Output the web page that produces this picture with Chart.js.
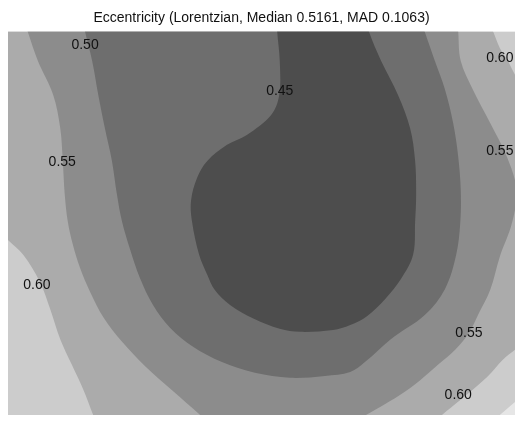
<!DOCTYPE html>
<html>
<head>
<meta charset="utf-8">
<script src="https://cdn.jsdelivr.net/npm/chart.js@4.4.1/dist/chart.umd.min.js"></script>
<style>
  html, body { margin: 0; padding: 0; background: #fff; }
  canvas { display: block; }
</style>
</head>
<body>
<canvas id="chart" width="524" height="424"></canvas>
<script>
// --- DATA: filled contour regions (x, y in plot units 0..100) ---
// each region = area where eccentricity is below the level; points outside 0..100 are clipped

const contourLevels = [0.45, 0.50, 0.55, 0.60, 0.65];

// whole plot (values above 0.65)
const frameX = [-6, -6, 106, 106];
const frameY = [-6, 106, 106, -6];

// below 0.65 (everything except the bottom right corner)
const below065X = [-6, -6, 106, 106, 102, 100, 97, 95, 92];
const below065Y = [-6, 106, 106, 8, 5.6, 3.4, 0, -2.3, -6];

// below 0.60
const below060X = [-3, -6, 94.4, 95.7, 97.0, 98.6, 100, 101.5, 106, 106, 102.4, 100, 97.6, 94.5, 89.2, 85.6, 83, 17.8, 16.8, 14.8, 12.6, 10.3, 8.3, 6.3, 3.0, 0];
const below060Y = [49.6, 106, 104, 100, 95.8, 92.4, 88.8, 85.5, 80, 20, 19.6, 17.0, 14.4, 9.9, 3.9, 0, -3, -3.4, 0, 6.8, 13.1, 19.8, 27.7, 34.7, 41.8, 45.7];

// below 0.55
const below055X = [2.9, 3.9, 5.9, 8.9, 10.3, 10.8, 11.2, 11.8, 12.8, 14.2, 16.2, 18.9, 22.5, 27.0, 32.3, 37.9, 40.5, 67.8, 70.6, 73.4, 77.3, 81.3, 84.8, 88.2, 90.9, 92.7, 95.1, 97.0, 99.4, 100.3, 98.4, 95.1, 91.7, 89.3, 88.8, 88.6];
const below055Y = [104, 100, 92.4, 83.6, 74.9, 66.3, 57.4, 50.4, 44.4, 38.4, 32.1, 25.3, 19.1, 12.8, 6.5, 0, -3, -2.1, 0, 2.1, 5.2, 9.1, 13.1, 17.0, 21.4, 26.1, 32.6, 41.3, 50.1, 58.7, 67.4, 76.2, 84.9, 92.4, 100, 104];

// below 0.50
const below050X = [14.5, 15.2, 16.6, 17.8, 19.1, 20.5, 21.5, 22.5, 24.1, 26.0, 28.6, 32.0, 36.5, 42.2, 48.7, 55.6, 62.5, 67.5, 70.4, 75.5, 82.2, 86.2, 88.4, 89.2, 89.3, 88.8, 87.8, 86.2, 84.2, 82.2, 81.2];
const below050Y = [104, 100, 92.4, 83.6, 74.9, 66.3, 57.4, 50.4, 43.1, 35.8, 28.7, 22.7, 17.8, 13.8, 11.0, 9.7, 10.2, 11.2, 13.8, 19.8, 26.1, 32.9, 41.8, 50.1, 58.7, 67.4, 76.2, 84.9, 92.4, 100, 104];

// below 0.45 (dark core)
const below045X = [53.0, 53.1, 53.6, 53.5, 51.9, 47.1, 43.2, 39.3, 37.3, 36.1, 36.3, 37.7, 39.3, 40.8, 43.8, 48.5, 53.6, 57.6, 64.1, 67.5, 70.8, 74.4, 77.5, 79.9, 80.3, 80.5, 80.3, 79.3, 76.9, 73.6, 71.2, 70.5];
const below045Y = [104, 100, 92.4, 83.6, 78.3, 73.1, 70.5, 66.3, 61.9, 55.9, 50.4, 41.8, 36.6, 32.6, 28.7, 25.1, 22.5, 21.7, 22.2, 23.5, 25.8, 30.3, 35.5, 41.8, 50.4, 57.4, 66.3, 74.9, 83.6, 92.4, 100, 104];

// contour labels
const labelText = ["0.50", "0.45", "0.55", "0.60", "0.60", "0.55", "0.55", "0.60"];
const labelX = [15.2, 53.6, 10.7, 5.7, 97.0, 97.0, 90.9, 88.8];
const labelY = [96.6, 84.6, 66.1, 33.9, 93.2, 68.9, 21.4, 5.2];

// --- STYLE ---
const regionColors = ["#e6e6e6", "#cccccc", "#ababab", "#8c8c8c", "#6e6e6e", "#4d4d4d"];

function toPoints(xs, ys) {
  return xs.map((x, i) => ({ x: x, y: ys[i] }));
}

const regions = [
  [frameX, frameY],
  [below065X, below065Y],
  [below060X, below060Y],
  [below055X, below055Y],
  [below050X, below050Y],
  [below045X, below045Y],
];

const datasets = regions.map((r, i) => ({
  label: i === 0 ? "> " + contourLevels[4] : "< " + contourLevels[contourLevels.length - i],
  data: toPoints(r[0], r[1]),
  showLine: true,
  fill: "shape",
  backgroundColor: regionColors[i],
  borderColor: "transparent",
  borderWidth: 0,
  pointRadius: 0,
  tension: i === 0 ? 0 : 0.35,
  order: regions.length - i, // outer regions painted first
  clip: 0,
}));

// draws the inline contour labels
const contourLabels = {
  id: "contourLabels",
  afterDatasetsDraw(chart) {
    const ctx = chart.ctx;
    const sx = chart.scales.x;
    const sy = chart.scales.y;
    ctx.save();
    ctx.font = '14px "Liberation Sans", Arial, sans-serif';
    ctx.fillStyle = "#111";
    ctx.textAlign = "center";
    ctx.textBaseline = "middle";
    labelText.forEach((t, i) => {
      ctx.fillText(t, sx.getPixelForValue(labelX[i]), sy.getPixelForValue(labelY[i]));
    });
    ctx.restore();
  },
};

new Chart(document.getElementById("chart"), {
  type: "scatter",
  data: { datasets: datasets },
  options: {
    responsive: false,
    animation: false,
    events: [],
    layout: { padding: { left: 8, right: 9, top: 0, bottom: 9 } },
    elements: { line: { capBezierPoints: false } },
    scales: {
      x: { type: "linear", min: 0, max: 100, display: false },
      y: { type: "linear", min: 0, max: 100, display: false },
    },
    plugins: {
      legend: { display: false },
      tooltip: { enabled: false },
      title: {
        display: true,
        text: "Eccentricity (Lorentzian, Median 0.5161, MAD 0.1063)",
        color: "#111",
        font: { family: '"Liberation Sans", Arial, sans-serif', size: 14, weight: "normal" },
        padding: { top: 10, bottom: 5 },
      },
    },
  },
  plugins: [contourLabels],
});
</script>
</body>
</html>
